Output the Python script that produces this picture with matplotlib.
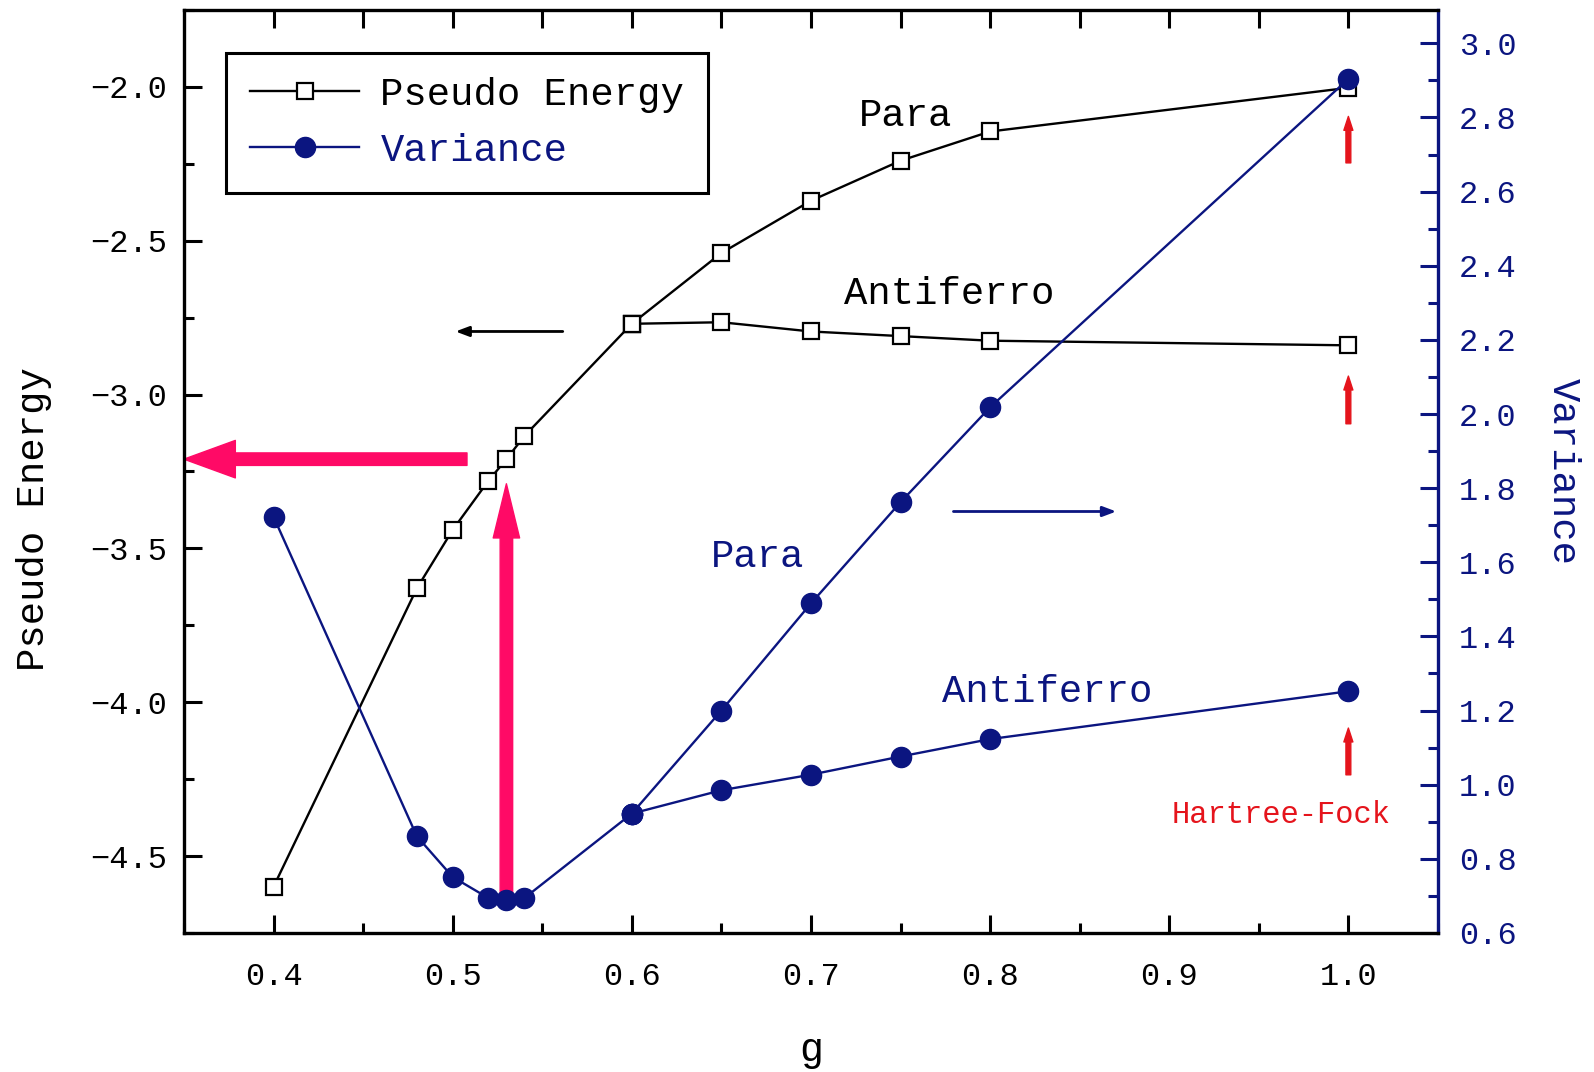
import matplotlib.pyplot as plt
import numpy as np
from matplotlib.ticker import MultipleLocator

# coupling g for the shared low-g branch and the two high-g branches
g_low = [0.40, 0.48, 0.50, 0.52, 0.53, 0.54, 0.60]
g_high = [0.60, 0.65, 0.70, 0.75, 0.80, 1.00]

# pseudo energy (left axis)
energy_low = [-4.60, -3.63, -3.44, -3.28, -3.21, -3.135, -2.77]
energy_para = [-2.77, -2.54, -2.37, -2.24, -2.145, -2.003]
energy_afm = [-2.77, -2.765, -2.795, -2.81, -2.825, -2.84]

# variance (right axis)
var_low = [1.723, 0.861, 0.751, 0.694, 0.688, 0.694, 0.922]
var_para = [0.922, 1.200, 1.489, 1.762, 2.018, 2.904]
var_afm = [0.922, 0.985, 1.027, 1.076, 1.123, 1.252]

NAVY = '#0b1580'
PINK = '#ff0a66'
RED = '#e5141c'
MONO = 'Liberation Mono'

plt.rcParams['font.family'] = [MONO, 'DejaVu Sans Mono']

fig = plt.figure(figsize=(15.94, 10.72), dpi=100)
ax = fig.add_axes([0.1154, 0.1297, 0.7867, 0.861])
ax2 = ax.twinx()

sq = dict(marker='s', markersize=11.5, markerfacecolor='white',
          markeredgecolor='black', markeredgewidth=1.6, color='black', lw=1.7)
ci = dict(marker='o', markersize=14.5, color=NAVY, lw=1.7)

ax.plot(g_low, energy_low, label='Pseudo Energy', **sq)
ax.plot(g_high, energy_para, **sq)
ax.plot(g_high, energy_afm, **sq)
ax2.plot(g_low, var_low, label='Variance', **ci)
ax2.plot(g_high, var_para, **ci)
ax2.plot(g_high, var_afm, **ci)

ax.set_xlim(0.35, 1.05)
ax.set_ylim(-4.75, -1.75)
ax2.set_ylim(0.6, 3.09)

ax.xaxis.set_major_locator(MultipleLocator(0.1))
ax.xaxis.set_minor_locator(MultipleLocator(0.05))
ax.yaxis.set_major_locator(MultipleLocator(0.5))
ax.yaxis.set_minor_locator(MultipleLocator(0.25))
ax2.yaxis.set_major_locator(MultipleLocator(0.2))
ax2.yaxis.set_minor_locator(MultipleLocator(0.1))
ax.set_xticks(np.arange(0.4, 1.01, 0.1))

for s in ['left', 'bottom', 'top']:
    ax2.spines[s].set_linewidth(2.4)
    ax2.spines[s].set_color('black')
ax2.spines['right'].set_linewidth(2.4)
ax2.spines['right'].set_color(NAVY)

ax.tick_params(axis='x', which='major', direction='in', length=13, width=2.2,
               pad=21, labelsize=23)
ax.tick_params(axis='x', which='minor', direction='in', length=7, width=2.2)
ax.tick_params(axis='y', which='major', direction='in', length=13, width=2.2,
               pad=12, labelsize=23)
ax.tick_params(axis='y', which='minor', direction='in', length=7, width=2.2)
ax2.tick_params(axis='y', which='major', direction='in', length=13, width=2.2,
                pad=15, labelsize=23, color=NAVY, labelcolor=NAVY)
ax2.tick_params(axis='y', which='minor', direction='in', length=7, width=2.2,
                color=NAVY)

# top edge carries evenly spaced ticks without labels
top = ax.secondary_xaxis('top')
top.set_xticks(np.arange(0.4, 1.01, 0.05))
top.tick_params(direction='in', length=13, width=2.2, labeltop=False)
top.spines['top'].set_visible(False)

ax.set_xlabel('g', fontsize=29, labelpad=28)
ax.set_ylabel('Pseudo Energy', fontsize=28)
ax.yaxis.set_label_coords(-0.105, 0.448)
ax2.set_ylabel('Variance', fontsize=28, color=NAVY, rotation=-90, labelpad=46)

# branch labels
ax.text(0.753, -2.096, 'Para', fontsize=28, ha='center', va='center')
ax.text(0.777, -2.673, 'Antiferro', fontsize=28, ha='center', va='center')
ax2.text(0.670, 1.613, 'Para', fontsize=28, ha='center', va='center', color=NAVY)
ax2.text(0.832, 1.25, 'Antiferro', fontsize=28, ha='center', va='center', color=NAVY)
ax2.text(0.9625, 0.919, 'Hartree-Fock', fontsize=22, ha='center', va='center', color=RED)

# axis direction arrows
ax.annotate('', xy=(0.50, -2.795), xytext=(0.563, -2.795),
            arrowprops=dict(arrowstyle='-|>,head_length=0.8,head_width=0.3',
                            color='black', lw=2))
ax2.annotate('', xy=(0.872, 1.737), xytext=(0.778, 1.737),
             arrowprops=dict(arrowstyle='-|>,head_length=0.8,head_width=0.3',
                             color=NAVY, lw=2))

# Hartree-Fock limit markers below the g = 1 points
for tip, tail in [(-2.096, -2.247), (-2.94, -3.095), (-4.084, -4.236)]:
    ax.annotate('', xy=(1.0, tip), xytext=(1.0, tail),
                arrowprops=dict(width=3.5, headwidth=6.5, headlength=10,
                                color=RED, shrink=0))

# variance minimum read across to the energy axis
ax.annotate('', xy=(0.53, -3.29), xycoords=ax.transData,
            xytext=(0.53, var_low[4] + 0.02), textcoords=ax2.transData,
            arrowprops=dict(width=9, headwidth=19, headlength=39,
                            color=PINK, shrink=0), zorder=5)
ax.annotate('', xy=(0.35, energy_low[4]), xytext=(0.508, energy_low[4]),
            arrowprops=dict(width=9, headwidth=27, headlength=37,
                            color=PINK, shrink=0), annotation_clip=False, zorder=5)

h1, l1 = ax.get_legend_handles_labels()
h2, l2 = ax2.get_legend_handles_labels()
leg = ax2.legend(h1 + h2, l1 + l2, loc='upper left',
                 bbox_to_anchor=(0.1418, 0.9506), bbox_transform=fig.transFigure,
                 borderaxespad=0, fontsize=28, fancybox=False, edgecolor='black',
                 framealpha=1, handlelength=2.8, handletextpad=0.55,
                 borderpad=0.62, labelspacing=0.5, labelcolor=['black', NAVY])
leg.get_frame().set_linewidth(2.2)

fig.savefig('out.png', dpi=100)
